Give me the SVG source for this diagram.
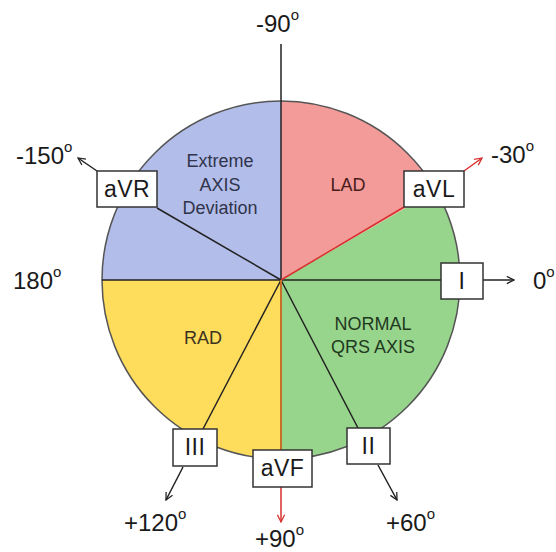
<svg xmlns="http://www.w3.org/2000/svg" width="556" height="552" viewBox="0 0 556 552">
<defs>
<style>
.deg{font-family:"Liberation Sans",Arial,sans-serif;font-size:24px;fill:#1a1a1a}
.sup{font-size:15px}
.box{fill:#fff;stroke:#333;stroke-width:1.5}
.bt{font-family:"Liberation Sans",Arial,sans-serif;font-size:23px;fill:#1a1a1a;text-anchor:middle;letter-spacing:0.5px}
.in{font-family:"Liberation Sans",Arial,sans-serif;font-size:18px;text-anchor:middle}
.ln{stroke:#222;stroke-width:1.5;fill:none}
.red{stroke:#d9302e;stroke-width:1.5;fill:none}
</style>
<marker id="ab" viewBox="0 0 10 10" refX="9" refY="5" markerWidth="9" markerHeight="9" markerUnits="userSpaceOnUse" orient="auto"><path d="M1,1 L9,5 L1,9" fill="none" stroke="#222" stroke-width="1.4"/></marker>
<marker id="ar" viewBox="0 0 10 10" refX="9" refY="5" markerWidth="9" markerHeight="9" markerUnits="userSpaceOnUse" orient="auto"><path d="M1,1 L9,5 L1,9" fill="none" stroke="#d9302e" stroke-width="1.4"/></marker>
</defs>
<rect width="556" height="552" fill="#fff"/>
<g id="sectors">
<path d="M281,280 L102,280 A179,179 0 0 1 281,101 Z" fill="#b3bdea"/>
<path d="M281,280 L281,101 A179,179 0 0 1 436,190.5 Z" fill="#f29b99"/>
<path d="M281,280 L436,190.5 A179,179 0 0 1 281,459 Z" fill="#98d58c"/>
<path d="M281,280 L281,459 A179,179 0 0 1 102,280 Z" fill="#fedc5c"/>
<circle cx="281" cy="280" r="179" fill="none" stroke="#555" stroke-width="1.5"/>
</g>
<g id="connectors">
<line class="ln" x1="281" y1="44" x2="281" y2="280"/>
<line class="ln" x1="102" y1="280" x2="441" y2="280"/>
<line class="ln" x1="281" y1="280" x2="157" y2="208"/>
<line class="red" x1="281" y1="280" x2="404" y2="207"/>
<line class="ln" x1="281" y1="280" x2="358" y2="428"/>
<line class="ln" x1="281" y1="280" x2="203" y2="429"/>
<line x1="281" y1="280" x2="281" y2="450" stroke="#c8702a" stroke-width="2"/>
<line class="ln" x1="97" y1="171" x2="78" y2="158" marker-end="url(#ab)"/>
<line class="red" x1="464" y1="171" x2="482" y2="158" marker-end="url(#ar)"/>
<line class="ln" x1="483" y1="280" x2="514" y2="280" marker-end="url(#ab)"/>
<line class="ln" x1="378" y1="465" x2="397" y2="500" marker-end="url(#ab)"/>
<line class="ln" x1="183" y1="467" x2="166" y2="500" marker-end="url(#ab)"/>
<line class="red" x1="281" y1="487" x2="281" y2="522" marker-end="url(#ar)"/>
</g>
<g id="zones">
<text class="in" fill="#2f344a"><tspan x="220" y="167">Extreme</tspan><tspan x="220" y="191">AXIS</tspan><tspan x="220" y="214">Deviation</tspan></text>
<text class="in" fill="#4a1b1b" x="348" y="191">LAD</text>
<text class="in" fill="#1f3a1f"><tspan x="373" y="330">NORMAL</tspan><tspan x="373" y="353">QRS AXIS</tspan></text>
<text class="in" fill="#3a3320" x="203" y="344">RAD</text>
</g>
<g id="aVR"><rect class="box" x="97" y="171" width="60" height="36"/><text class="bt" x="127" y="197">aVR</text></g>
<g id="aVL"><rect class="box" x="404" y="171" width="60" height="36"/><text class="bt" x="434" y="197">aVL</text></g>
<g id="I"><rect class="box" x="441" y="263" width="42" height="36"/><text class="bt" x="462" y="289">I</text></g>
<g id="II"><rect class="box" x="347" y="428" width="43" height="36"/><text class="bt" x="368.5" y="454">II</text></g>
<g id="III"><rect class="box" x="173" y="429" width="44" height="37"/><text class="bt" x="195" y="455">III</text></g>
<g id="aVF"><rect class="box" x="253" y="450" width="59" height="37"/><text class="bt" x="282.5" y="476">aVF</text></g>
<g id="degrees">
<text class="deg" x="256" y="32">-90<tspan class="sup" dy="-12">o</tspan></text>
<text class="deg" x="16" y="164">-150<tspan class="sup" dy="-12">o</tspan></text>
<text class="deg" x="13" y="289">180<tspan class="sup" dy="-12">o</tspan></text>
<text class="deg" x="491" y="163">-30<tspan class="sup" dy="-12">o</tspan></text>
<text class="deg" x="533" y="289">0<tspan class="sup" dy="-12">o</tspan></text>
<text class="deg" x="124" y="531">+120<tspan class="sup" dy="-12">o</tspan></text>
<text class="deg" x="255" y="547">+90<tspan class="sup" dy="-12">o</tspan></text>
<text class="deg" x="386" y="531">+60<tspan class="sup" dy="-12">o</tspan></text>
</g>
</svg>
